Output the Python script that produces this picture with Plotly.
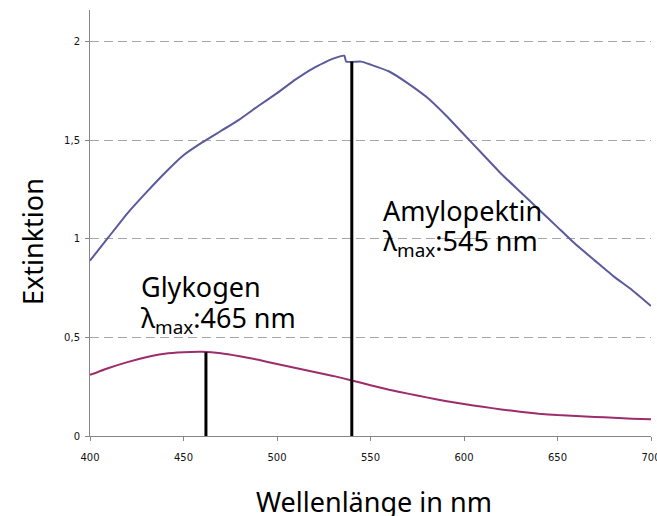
import plotly.graph_objects as go

# Data
wl_amylo = [400, 410, 420, 430, 440, 450, 460, 470, 480, 490, 500, 510, 520, 530, 536, 537,
            545, 550, 560, 570, 580, 590, 600, 610, 620, 630, 640, 650, 660, 670, 680, 690, 700]
ext_amylo = [0.89, 1.01, 1.13, 1.235, 1.335, 1.425, 1.49, 1.548, 1.607, 1.675, 1.74, 1.81, 1.87, 1.915, 1.93, 1.90,
             1.90, 1.885, 1.85, 1.79, 1.72, 1.63, 1.53, 1.43, 1.33, 1.24, 1.15, 1.06, 0.97, 0.89, 0.81, 0.74, 0.66]

wl_glyko = [400, 410, 420, 430, 440, 450, 460, 470, 480, 490, 500, 510, 520, 530, 540, 550,
            560, 570, 580, 590, 600, 610, 620, 630, 640, 650, 660, 670, 680, 690, 700]
ext_glyko = [0.31, 0.345, 0.375, 0.40, 0.418, 0.425, 0.427, 0.42, 0.405, 0.387, 0.365, 0.345, 0.325, 0.305,
             0.282, 0.258, 0.235, 0.215, 0.196, 0.178, 0.162, 0.148, 0.135, 0.123, 0.113, 0.106, 0.102,
             0.097, 0.093, 0.088, 0.085]

marker_names = ["Glykogen", "Amylopektin"]
marker_x = [462, 540]
marker_top = [0.425, 1.90]
marker_labels = ["465 nm", "545 nm"]

x_ticks = [400, 450, 500, 550, 600, 650, 700]
y_ticks = [0, 0.5, 1, 1.5, 2]

BIG = "Noto Sans"
SMALL = "DejaVu Sans"

fig = go.Figure()
fig.add_trace(go.Scatter(x=wl_amylo, y=ext_amylo, mode="lines",
                         line=dict(color="#5a5a9c", width=2, shape="spline", smoothing=0.4),
                         showlegend=False))
fig.add_trace(go.Scatter(x=wl_glyko, y=ext_glyko, mode="lines",
                         line=dict(color="#9c2d6a", width=2, shape="spline", smoothing=0.4),
                         showlegend=False))
for mx, mt in zip(marker_x, marker_top):
    fig.add_trace(go.Scatter(x=[mx, mx], y=[0, mt], mode="lines",
                             line=dict(color="black", width=3), showlegend=False))

# annotation positions (data coords)
ann_pos = [(426.0, 0.758, 0.589), (555.4, 1.147, 0.98)]
annotations = []
for name, lab, (ax, y1, y2) in zip(marker_names, marker_labels, ann_pos):
    annotations.append(dict(x=ax, y=y1, xref="x", yref="y", text=name, showarrow=False,
                            xanchor="left", yanchor="middle",
                            font=dict(family=BIG, size=27, color="black")))
    annotations.append(dict(x=ax, y=y2, xref="x", yref="y",
                            text="λ<sub>max</sub>:" + lab, showarrow=False,
                            xanchor="left", yanchor="middle",
                            font=dict(family=BIG, size=27, color="black")))

annotations.append(dict(x=(32 - 90) / 561, y=(436 - 242) / 426, xref="paper", yref="paper",
                        text="Extinktion", textangle=-90, showarrow=False,
                        xanchor="center", yanchor="middle",
                        font=dict(family=BIG, size=27, color="black")))
annotations.append(dict(x=(373.5 - 90) / 561, y=(436 - 501) / 426, xref="paper", yref="paper",
                        text="Wellenlänge in nm", showarrow=False,
                        xanchor="center", yanchor="middle",
                        font=dict(family=BIG, size=27, color="black")))

fig.update_layout(
    width=657, height=516,
    margin=dict(l=90, r=6, t=10, b=80, autoexpand=False),
    paper_bgcolor="white", plot_bgcolor="white",
    separators=",.",
    annotations=annotations,
    xaxis=dict(range=[400, 700], tickvals=x_ticks, showgrid=False, zeroline=False,
               showline=True, linecolor="#868686", linewidth=1,
               ticks="outside", ticklen=4, tickcolor="#868686",
               ticklabeloverflow="allow", automargin=False, ticklabelstandoff=8,
               tickfont=dict(family=SMALL, size=10, color="#111")),
    yaxis=dict(range=[0, 2.162], tickvals=y_ticks, showgrid=True, gridcolor="#a6a6a6",
               gridwidth=1.3, griddash="9px,5px", zeroline=False,
               showline=True, linecolor="#868686", linewidth=1,
               ticks="outside", ticklen=4, tickcolor="#868686", automargin=False,
               ticklabelstandoff=3,
               tickfont=dict(family=SMALL, size=10, color="#111")),
)

fig.write_html("out.html", config={"displayModeBar": False},
               post_script="document.body.style.margin='0';document.body.style.overflow='hidden';")
